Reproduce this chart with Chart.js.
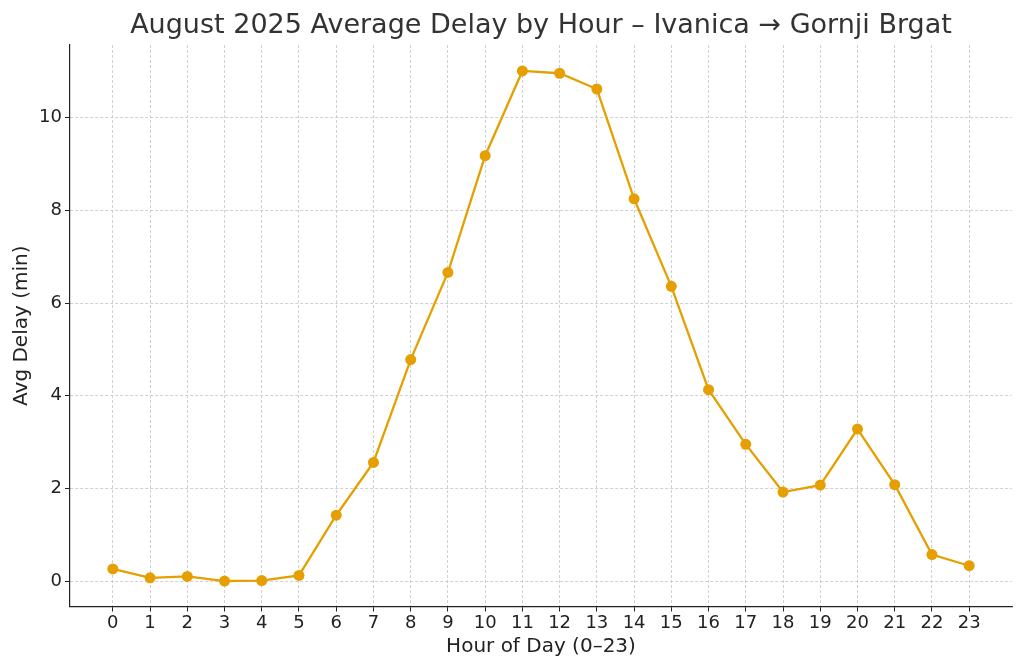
<!DOCTYPE html>
<html>
<head>
<meta charset="utf-8">
<script src="https://cdn.jsdelivr.net/npm/chart.js@4.4.1/dist/chart.umd.min.js"></script>
<style>
  html, body { margin: 0; padding: 0; background: #fff; }
  #wrap { width: 1024px; height: 669px; }
</style>
</head>
<body>
<div id="wrap"><canvas id="delayChart" width="1024" height="669"></canvas></div>
<script>
// hours of the day and average delay (min)
var hours = [0, 1, 2, 3, 4, 5, 6, 7, 8, 9, 10, 11, 12, 13, 14, 15, 16, 17, 18, 19, 20, 21, 22, 23];
var avgDelay = [0.26, 0.07, 0.10, 0.00, 0.01, 0.12, 1.42, 2.56, 4.78, 6.66, 9.18, 11.01,
                10.96, 10.62, 8.25, 6.36, 4.13, 2.95, 1.92, 2.07, 3.28, 2.08, 0.57, 0.33];
var yTicks = [0, 2, 4, 6, 8, 10];

var lineColor = '#E69F00';
var fontFam = "'DejaVu Sans', sans-serif";

window.onload = function () {
	var puntos = [];
	for (var i = 0; i < hours.length; i++) {
		puntos.push({ x: hours[i], y: avgDelay[i] });
	}

	var ctx = document.getElementById('delayChart').getContext('2d');
	var myChart = new Chart(ctx, {
		type: 'line',
		data: {
			datasets: [{
				label: 'Avg Delay',
				data: puntos,
				borderColor: lineColor,
				backgroundColor: lineColor,
				borderWidth: 2.3,
				pointRadius: 5.5,
				pointHoverRadius: 5.5,
				pointBorderWidth: 0,
				tension: 0,
				fill: false
			}]
		},
		options: {
			responsive: false,
			animation: false,
			layout: { padding: { left: 0, right: 12, top: 0, bottom: 0 } },
			plugins: {
				legend: { display: false },
				tooltip: { enabled: false },
				title: {
					display: true,
					fullSize: false, // centre over the plot area, like the reference
					text: 'August 2025 Average Delay by Hour \u2013 Ivanica \u2192 Gornji Brgat',
					color: '#333333',
					font: { family: fontFam, size: 27, weight: 'normal' },
					padding: { top: 10, bottom: 2.6 }
				}
			},
			scales: {
				x: {
					type: 'linear',
					min: -1.15,
					max: 24.15,
					afterBuildTicks: function (scale) {
						scale.ticks = hours.map(function (h) { return { value: h }; });
					},
					afterFit: function (scale) { scale.height = 62.5; },
					ticks: {
						color: '#222222',
						font: { family: fontFam, size: 18 },
						padding: 1,
						maxRotation: 0,
						autoSkip: false
					},
					grid: {
						color: '#c4c4c4',
						lineWidth: 0.8,
						tickColor: '#222222',
						tickLength: 5,
						tickBorderDash: [],
						tickWidth: 1
					},
					border: { display: true, color: '#222222', width: 1.2, dash: [3, 2] },
					title: {
						display: true,
						text: 'Hour of Day (0\u201323)',
						color: '#222222',
						font: { family: fontFam, size: 20 },
						padding: { top: 0, bottom: 10 }
					}
				},
				y: {
					type: 'linear',
					min: -0.55,
					max: 11.57,
					afterBuildTicks: function (scale) {
						scale.ticks = yTicks.map(function (v) { return { value: v }; });
					},
					afterFit: function (scale) { scale.width = 70; },
					ticks: {
						color: '#222222',
						font: { family: fontFam, size: 18 },
						padding: 3
					},
					grid: {
						color: '#c4c4c4',
						lineWidth: 0.8,
						tickColor: '#222222',
						tickLength: 5,
						tickBorderDash: [],
						tickWidth: 1
					},
					border: { display: true, color: '#222222', width: 1.2, dash: [3, 2] },
					title: {
						display: true,
						text: 'Avg Delay (min)',
						color: '#222222',
						font: { family: fontFam, size: 20 },
						padding: { top: 10, bottom: 0 }
					}
				}
			}
		}
	});
};
</script>
</body>
</html>
